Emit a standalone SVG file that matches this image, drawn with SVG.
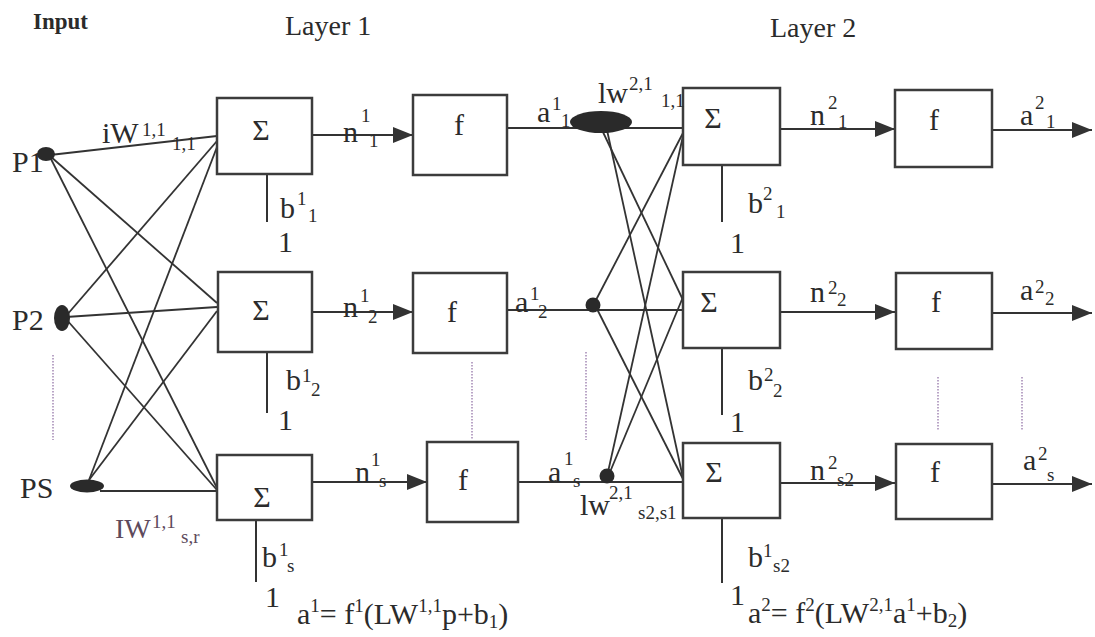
<svg xmlns="http://www.w3.org/2000/svg" width="1095" height="637" viewBox="0 0 1095 637">
<style>
text{font-family:"Liberation Serif","Times New Roman",serif;fill:#2b2b2b}
.t{font-size:30px}
.s{font-size:19px}
.sym{font-size:30px;text-anchor:middle}
.hd{font-size:28px}
.inp{font-size:23px;font-weight:bold}
.box{fill:#fff;stroke:#3c3c3c;stroke-width:2.5}
.ln{stroke:#333;stroke-width:1.8;fill:none}
.ar{stroke:#333;stroke-width:2;fill:none;marker-end:url(#ah)}
.dot{fill:#2a2a2a}
.dt{stroke:#a98fb8;stroke-width:1.6;stroke-dasharray:1.5 1.5;fill:none}
.bias{stroke:#333;stroke-width:2;fill:none}
.iw{fill:#5e4a5c}
</style>
<defs>
<marker id="ah" viewBox="0 0 20 16" refX="20" refY="8" markerWidth="20" markerHeight="16" markerUnits="userSpaceOnUse" orient="auto">
<path d="M0,0 L20,8 L0,16 Z" fill="#333"/>
</marker>
</defs>
<rect width="1095" height="637" fill="#fff"/>

<g id="headings">
<text x="33" y="29" class="inp">Input</text>
<text x="285" y="35" class="hd">Layer 1</text>
<text x="770" y="37" class="hd">Layer 2</text>
</g>

<g id="connectors">
<!-- layer 1 weights -->
<line class="ln" x1="50" y1="155" x2="217" y2="136"/>
<line class="ln" x1="50" y1="156" x2="217" y2="303"/>
<line class="ln" x1="50" y1="157" x2="217" y2="488"/>
<line class="ln" x1="66" y1="316" x2="217" y2="141"/>
<line class="ln" x1="66" y1="317" x2="217" y2="307"/>
<line class="ln" x1="66" y1="319" x2="217" y2="490"/>
<line class="ln" x1="89" y1="480" x2="217" y2="147"/>
<line class="ln" x1="89" y1="480" x2="217" y2="311"/>
<line class="ln" x1="100" y1="491" x2="217" y2="491"/>
<!-- layer 1 sum -> f -->
<line class="ar" x1="312" y1="135" x2="413" y2="135"/>
<line class="ar" x1="312" y1="312" x2="413" y2="312"/>
<line class="ar" x1="312" y1="482" x2="427" y2="482"/>
<!-- layer 1 outputs -->
<line class="ln" x1="507" y1="128" x2="683" y2="128"/>
<line class="ln" x1="507" y1="310" x2="683" y2="310"/>
<line class="ln" x1="518" y1="482" x2="683" y2="482"/>
<!-- layer 2 weights -->
<line class="ln" x1="602" y1="130" x2="683" y2="300"/>
<line class="ln" x1="607" y1="130" x2="683" y2="478"/>
<line class="ln" x1="596" y1="300" x2="683" y2="133"/>
<line class="ln" x1="597" y1="309" x2="683" y2="479"/>
<line class="ln" x1="608" y1="472" x2="683" y2="136"/>
<line class="ln" x1="610" y1="472" x2="683" y2="297"/>
<!-- layer 2 sum -> f -->
<line class="ar" x1="780" y1="129" x2="895" y2="129"/>
<line class="ar" x1="780" y1="312" x2="895" y2="312"/>
<line class="ar" x1="780" y1="483" x2="895" y2="483"/>
<!-- outputs -->
<line class="ar" x1="992" y1="130" x2="1092" y2="130"/>
<line class="ar" x1="992" y1="313" x2="1092" y2="313"/>
<line class="ar" x1="992" y1="484" x2="1092" y2="484"/>
<!-- biases -->
<line class="bias" x1="267" y1="174" x2="267" y2="222"/>
<line class="bias" x1="267" y1="352" x2="267" y2="413"/>
<line class="bias" x1="256" y1="520" x2="256" y2="582"/>
<line class="bias" x1="722" y1="166" x2="722" y2="222"/>
<line class="bias" x1="722" y1="349" x2="722" y2="415"/>
<line class="bias" x1="722" y1="519" x2="722" y2="583"/>
<!-- ellipsis dots -->
<line class="dt" x1="53" y1="355" x2="53" y2="440"/>
<line class="dt" x1="472" y1="362" x2="472" y2="440"/>
<line class="dt" x1="586" y1="352" x2="586" y2="440"/>
<line class="dt" x1="938" y1="377" x2="938" y2="430"/>
<line class="dt" x1="1022" y1="377" x2="1022" y2="430"/>
</g>

<g id="P1">
<ellipse class="dot" cx="46" cy="154" rx="9" ry="7"/>
<text x="12" y="172" class="t">P1</text>
</g>
<g id="P2">
<ellipse class="dot" cx="62" cy="318" rx="8" ry="13"/>
<text x="12" y="330" class="t">P2</text>
</g>
<g id="PS">
<ellipse class="dot" cx="87" cy="486" rx="17" ry="6.5"/>
<text x="20" y="498" class="t">PS</text>
</g>

<g id="sum1-1">
<rect class="box" x="217" y="98" width="95" height="76"/>
<text x="261" y="140" class="sym">Σ</text>
</g>
<g id="sum1-2">
<rect class="box" x="218" y="272" width="94" height="80"/>
<text x="261" y="320" class="sym">Σ</text>
</g>
<g id="sum1-s">
<rect class="box" x="217" y="455" width="95" height="65"/>
<text x="262" y="507" class="sym">Σ</text>
</g>

<g id="f1-1">
<rect class="box" x="413" y="95" width="94" height="80"/>
<text x="459" y="135" class="sym">f</text>
</g>
<g id="f1-2">
<rect class="box" x="413" y="273" width="94" height="80"/>
<text x="452" y="322" class="sym">f</text>
</g>
<g id="f1-s">
<rect class="box" x="427" y="442" width="91" height="80"/>
<text x="463" y="490" class="sym">f</text>
</g>

<g id="node-a1-1">
<ellipse class="dot" cx="601" cy="122" rx="31" ry="11"/>
</g>
<g id="node-a1-2">
<circle class="dot" cx="593" cy="305" r="7.5"/>
</g>
<g id="node-a1-s">
<circle class="dot" cx="607" cy="476" r="7.5"/>
</g>

<g id="sum2-1">
<rect class="box" x="683" y="88" width="97" height="77"/>
<text x="713" y="128" class="sym">Σ</text>
</g>
<g id="sum2-2">
<rect class="box" x="683" y="272" width="97" height="76"/>
<text x="709" y="312" class="sym">Σ</text>
</g>
<g id="sum2-s">
<rect class="box" x="683" y="443" width="97" height="75"/>
<text x="714" y="482" class="sym">Σ</text>
</g>

<g id="f2-1">
<rect class="box" x="895" y="90" width="97" height="77"/>
<text x="934" y="130" class="sym">f</text>
</g>
<g id="f2-2">
<rect class="box" x="896" y="273" width="96" height="76"/>
<text x="936" y="312" class="sym">f</text>
</g>
<g id="f2-s">
<rect class="box" x="896" y="444" width="96" height="75"/>
<text x="935" y="482" class="sym">f</text>
</g>

<g id="labels">
<!-- iW -->
<text x="102" y="143" class="t">iW</text><text x="142" y="136" class="s">1,1</text><text x="172" y="150" class="s">1,1</text>
<!-- IW -->
<text x="115" y="538" class="t iw" style="font-size:28px">IW</text><text x="152" y="528" class="s iw">1,1</text><text x="181" y="543" class="s iw">s,r</text>
<!-- n1 -->
<text x="343" y="142" class="t">n</text><text x="361" y="122" class="s">1</text><text x="369" y="147" class="s">1</text>
<text x="343" y="317" class="t">n</text><text x="360" y="302" class="s">1</text><text x="368" y="323" class="s">2</text>
<text x="355" y="482" class="t">n</text><text x="371" y="466" class="s">1</text><text x="379" y="487" class="s">s</text>
<!-- b1 -->
<text x="280" y="218" class="t">b</text><text x="297" y="205" class="s">1</text><text x="308" y="222" class="s">1</text>
<text x="278" y="252" class="t">1</text>
<text x="286" y="390" class="t">b</text><text x="302" y="382" class="s">1</text><text x="311" y="396" class="s">2</text>
<text x="278" y="430" class="t">1</text>
<text x="262" y="567" class="t">b</text><text x="279" y="556" class="s">1</text><text x="287" y="572" class="s">s</text>
<text x="265" y="607" class="t">1</text>
<!-- a1 -->
<text x="537" y="122" class="t">a</text><text x="552" y="110" class="s">1</text><text x="561" y="127" class="s">1</text>
<text x="515" y="312" class="t">a</text><text x="530" y="300" class="s">1</text><text x="538" y="318" class="s">2</text>
<text x="548" y="482" class="t">a</text><text x="564" y="465" class="s">1</text><text x="573" y="487" class="s">s</text>
<!-- lw -->
<text x="598" y="103" class="t">lw</text><text x="629" y="90" class="s">2,1</text><text x="661" y="107" class="s">1,1</text>
<text x="580" y="515" class="t">lw</text><text x="609" y="499" class="s">2,1</text><text x="638" y="519" class="s">s2,s1</text>
<!-- n2 -->
<text x="810" y="125" class="t">n</text><text x="828" y="109" class="s">2</text><text x="838" y="128" class="s">1</text>
<text x="810" y="302" class="t">n</text><text x="828" y="294" class="s">2</text><text x="837" y="306" class="s">2</text>
<text x="810" y="480" class="t">n</text><text x="828" y="469" class="s">2</text><text x="837" y="486" class="s">s2</text>
<!-- a2 -->
<text x="1020" y="125" class="t">a</text><text x="1035" y="109" class="s">2</text><text x="1046" y="128" class="s">1</text>
<text x="1020" y="300" class="t">a</text><text x="1035" y="293" class="s">2</text><text x="1045" y="305" class="s">2</text>
<text x="1023" y="470" class="t">a</text><text x="1038" y="460" class="s">2</text><text x="1047" y="481" class="s">s</text>
<!-- b2 -->
<text x="748" y="213" class="t">b</text><text x="763" y="200" class="s">2</text><text x="776" y="218" class="s">1</text>
<text x="730" y="253" class="t">1</text>
<text x="748" y="390" class="t">b</text><text x="764" y="381" class="s">2</text><text x="773" y="397" class="s">2</text>
<text x="730" y="432" class="t">1</text>
<text x="748" y="567" class="t">b</text><text x="763" y="557" class="s">1</text><text x="773" y="572" class="s">s2</text>
<text x="730" y="605" class="t">1</text>
<!-- formulas -->
<text x="297" y="624" class="t">a<tspan dy="-12" class="s">1</tspan><tspan dy="12">= f</tspan><tspan dy="-12" class="s">1</tspan><tspan dy="12">(LW</tspan><tspan dy="-12" class="s">1,1</tspan><tspan dy="12">p+b</tspan><tspan dy="4" class="s">1</tspan><tspan dy="-4">)</tspan></text>
<text x="748" y="623" class="t">a<tspan dy="-12" class="s">2</tspan><tspan dy="12">= f</tspan><tspan dy="-12" class="s">2</tspan><tspan dy="12">(LW</tspan><tspan dy="-12" class="s">2,1</tspan><tspan dy="12">a</tspan><tspan dy="-12" class="s">1</tspan><tspan dy="12">+b</tspan><tspan dy="4" class="s">2</tspan><tspan dy="-4">)</tspan></text>
</g>
</svg>
